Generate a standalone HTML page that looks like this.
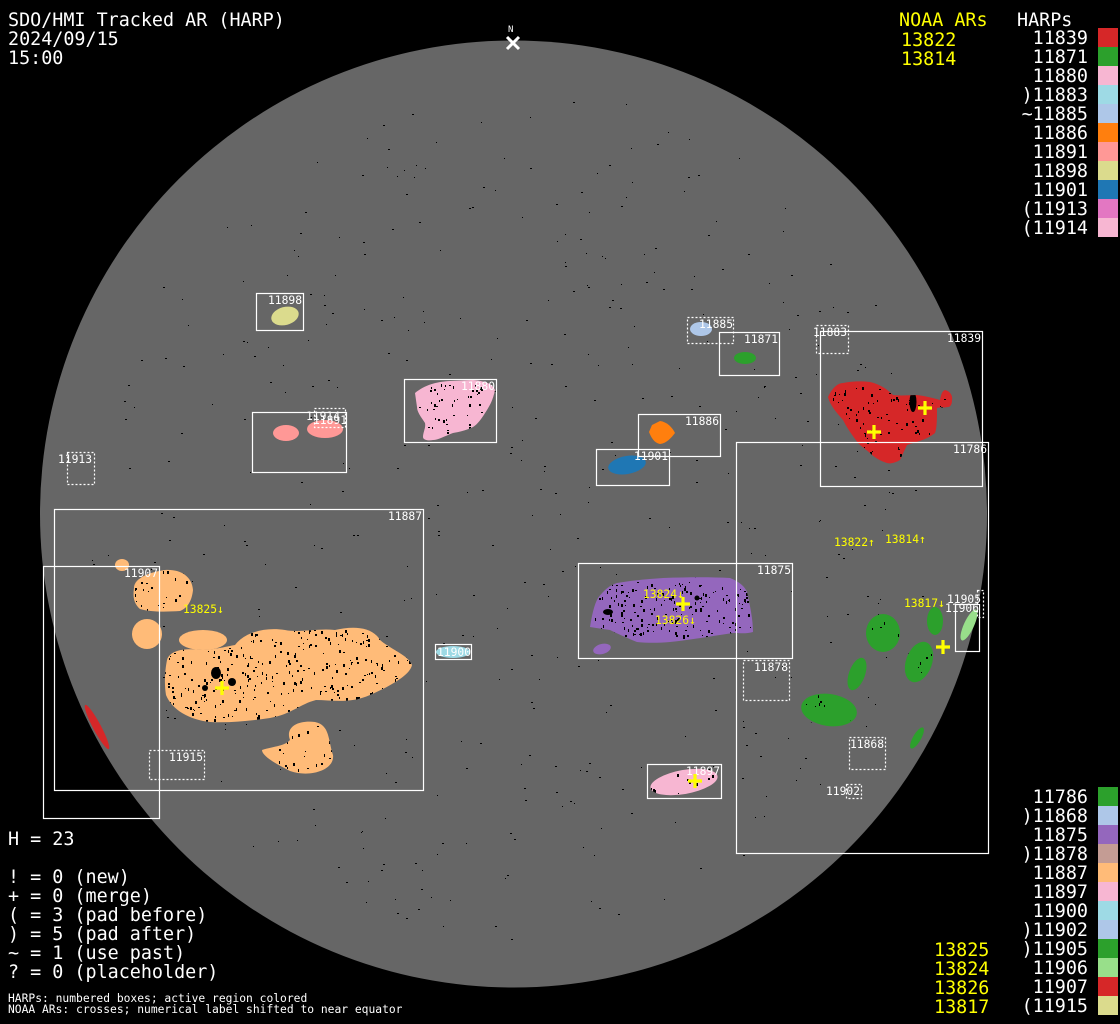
<!DOCTYPE html>
<html><head><meta charset="utf-8">
<style>
html,body{margin:0;padding:0;background:#000;width:1120px;height:1024px;overflow:hidden}
svg{display:block}
.t{font-family:"DejaVu Sans Mono","Liberation Mono",monospace;fill:#fff}
.big{font-size:18.4px}
.sm{font-size:11.3px}
.y{fill:#ffff00}
.box{fill:none;stroke:#fff;stroke-width:1.2}
.dot{fill:none;stroke:#fff;stroke-width:1.2;stroke-dasharray:2 2}
.cr{stroke:#ffff00;stroke-width:3.2}
</style></head><body>
<svg width="1120" height="1024" viewBox="0 0 1120 1024" xmlns="http://www.w3.org/2000/svg">
<defs>
<path id="pOr" d="M167,660 C170,650 185,648 200,650 C215,650 228,646 235,645 C245,632 265,627 285,630 C300,633 318,628 335,630 C352,626 372,626 380,640 C392,650 408,655 412,665 C410,676 386,688 370,695 C350,704 332,700 316,700 C300,704 292,714 270,718 C250,721 230,723 210,722 C190,720 172,710 166,695 C164,683 165,670 167,660 Z"/>
<path id="pOr2" d="M262,750 C275,746 285,746 290,740 C285,727 298,720 315,722 C330,725 328,740 333,755 C335,770 310,778 290,771 C276,764 262,756 262,750 Z"/>
<path id="pOr3" d="M134,588 C134,578 150,572 165,570 C180,569 192,576 193,590 C192,600 188,608 180,611 C165,612 150,612 140,609 C133,603 133,595 134,588 Z"/>
<path id="pRed" d="M828,397 C832,388 838,383 843,383 C853,381 862,381 870,382 C880,384 888,390 893,395 C902,396 910,395 917,395 C925,396 933,398 940,400 C941,395 942,391 945,390 C950,391 953,396 952,400 C952,405 950,407 948,407 C943,408 939,407 937,408 C937,418 937,428 935,433 C927,440 915,442 907,445 C904,451 902,456 900,460 C895,463 890,464 887,463 C880,461 874,457 870,453 C865,449 861,446 858,443 C852,435 847,428 843,420 C836,412 830,405 828,397 Z"/>
<path id="pPur" d="M590,627 C592,615 594,605 598,598 C604,590 610,585 617,583 C635,580 650,579 663,578 C690,577 712,577 730,578 C740,582 745,587 747,592 C750,605 753,620 753,632 C746,634 740,633 733,633 C712,636 690,640 670,642 C658,643 647,643 637,642 C627,638 618,634 610,630 C603,629 596,628 590,627 Z"/>
<path id="pPk" d="M415,393 C425,385 435,382 450,381 L473,380 C485,381 493,384 495,390 C493,400 490,405 487,410 C482,418 478,424 473,427 C465,431 458,432 453,433 C445,436 438,440 433,440 C428,441 423,440 423,437 C423,432 426,428 425,423 C421,417 417,412 417,407 Z"/>
<clipPath id="cl">
<use href="#pOr"/><use href="#pOr2"/><use href="#pOr3"/><use href="#pRed"/><use href="#pPur"/><use href="#pPk"/>
<ellipse cx="883" cy="633" rx="17" ry="19"/>
<ellipse cx="829" cy="710" rx="28" ry="16"/>
<ellipse cx="919" cy="662" rx="13" ry="21" transform="rotate(20 919 662)"/>
<ellipse cx="684" cy="782" rx="34" ry="12" transform="rotate(-10 684 782)"/>
</clipPath>
</defs>
<rect width="1120" height="1024" fill="#000"/>
<circle cx="513.5" cy="514" r="473.5" fill="#666"/>
<g id="speck" fill="#000"></g>

<!-- blobs -->
<ellipse cx="285" cy="316" rx="14" ry="9" fill="#dbdb8d" transform="rotate(-15 285 316)"/>
<ellipse cx="701" cy="329" rx="11" ry="7" fill="#aec7e8"/>
<ellipse cx="745" cy="358" rx="11" ry="6" fill="#2ca02c"/>
<use href="#pPk" fill="#f7b6d2"/>
<ellipse cx="286" cy="433" rx="13" ry="8" fill="#ff9896"/>
<ellipse cx="325" cy="429" rx="18" ry="9" fill="#ff9896"/>
<path d="M652,425 L660,421 C667,422 672,427 675,433 C671,438 667,443 660,444 C654,443 651,437 649,432 Z" fill="#ff7f0e"/>
<ellipse cx="627" cy="465" rx="19" ry="9" fill="#1f77b4" transform="rotate(-10 627 465)"/>
<use href="#pRed" fill="#d62728"/>
<use href="#pPur" fill="#9467bd"/>
<ellipse cx="602" cy="649" rx="9" ry="5" fill="#9467bd" transform="rotate(-15 602 649)"/>
<ellipse cx="453" cy="652" rx="17" ry="6" fill="#9edae5"/>
<g fill="#ffbb78">
<use href="#pOr"/>
<ellipse cx="203" cy="640" rx="24" ry="10"/>
<use href="#pOr2"/>
<use href="#pOr3"/>
<ellipse cx="147" cy="634" rx="15" ry="15"/>
<ellipse cx="122" cy="565" rx="7" ry="6"/>
</g>
<ellipse cx="97" cy="727" rx="4" ry="25" fill="#d62728" transform="rotate(-28 97 727)"/>
<g fill="#2ca02c">
<ellipse cx="883" cy="633" rx="17" ry="19"/>
<ellipse cx="857" cy="674" rx="8" ry="17" transform="rotate(20 857 674)"/>
<ellipse cx="829" cy="710" rx="28" ry="16" transform="rotate(8 829 710)"/>
<ellipse cx="919" cy="662" rx="13" ry="21" transform="rotate(20 919 662)"/>
<ellipse cx="935" cy="621" rx="8" ry="14"/>
<ellipse cx="917" cy="738" rx="4" ry="12" transform="rotate(30 917 738)"/>
</g>
<ellipse cx="969" cy="625" rx="5" ry="17" fill="#98df8a" transform="rotate(25 969 625)"/>
<ellipse cx="684" cy="782" rx="34" ry="12" fill="#f7b6d2" transform="rotate(-10 684 782)"/>
<g id="inner" fill="#000" clip-path="url(#cl)"></g>

<!-- boxes -->
<rect class="box" x="256.5" y="293.5" width="47" height="37"/>
<rect class="dot" x="687.5" y="317.5" width="46" height="26"/>
<rect class="box" x="719.5" y="332.5" width="60" height="43"/>
<rect class="dot" x="816.5" y="325.5" width="32" height="28"/>
<rect class="box" x="820.5" y="331.5" width="162" height="155"/>
<rect class="box" x="736.5" y="442.5" width="252" height="411"/>
<rect class="box" x="404.5" y="379.5" width="92" height="63"/>
<rect class="box" x="252.5" y="412.5" width="94" height="60"/>
<rect class="dot" x="314.5" y="408.5" width="31" height="19"/>
<rect class="dot" x="67.5" y="452.5" width="27" height="32"/>
<rect class="box" x="638.5" y="414.5" width="82" height="42"/>
<rect class="box" x="596.5" y="449.5" width="73" height="36"/>
<rect class="box" x="54.5" y="509.5" width="369" height="281"/>
<rect class="box" x="43.5" y="566.5" width="116" height="252"/>
<rect class="box" x="435.5" y="644.5" width="36" height="15"/>
<rect class="box" x="578.5" y="563.5" width="214" height="95"/>
<rect class="dot" x="743.5" y="660.5" width="46" height="40"/>
<rect class="box" x="647.5" y="764.5" width="74" height="34"/>
<rect class="dot" x="849.5" y="737.5" width="36" height="32"/>
<rect class="dot" x="846.5" y="784.5" width="15" height="14"/>
<rect class="dot" x="977.5" y="590.5" width="6" height="27"/>
<rect class="box" x="955.5" y="604.5" width="24" height="47"/>
<rect class="dot" x="149.5" y="750.5" width="55" height="29"/>

<g class="t sm">
<text x="268" y="304">11898</text>
<text x="699" y="328">11885</text>
<text x="744" y="343">11871</text>
<text x="813" y="336">11883</text>
<text x="947" y="342">11839</text>
<text x="953" y="453">11786</text>
<text x="461" y="390">11880</text>
<text x="306" y="420">11914</text>
<text x="313" y="424">11891</text>
<text x="58" y="463">11913</text>
<text x="685" y="425">11886</text>
<text x="634" y="460">11901</text>
<text x="388" y="520">11887</text>
<text x="124" y="577">11907</text>
<text x="437" y="656">11900</text>
<text x="757" y="574">11875</text>
<text x="754" y="671">11878</text>
<text x="686" y="775">11897</text>
<text x="850" y="748">11868</text>
<text x="826" y="795">11902</text>
<text x="947" y="603">11905</text>
<text x="945" y="612">11906</text>
<text x="169" y="761">11915</text>
</g>
<g class="t sm y">
<text x="834" y="546">13822↑</text>
<text x="885" y="543">13814↑</text>
<text x="904" y="607">13817↓</text>
<text x="183" y="613">13825↓</text>
<text x="643" y="598">13824↓</text>
<text x="655" y="624">13826↓</text>
</g>
<g class="cr">
<path d="M918,408h14M925,401v14"/>
<path d="M867,432h14M874,425v14"/>
<path d="M676,604h14M683,597v14"/>
<path d="M215,688h14M222,681v14"/>
<path d="M688,781h14M695,774v14"/>
<path d="M936,647h14M943,640v14"/>
</g>
<path d="M507,37l12,12M519,37l-12,12" stroke="#fff" stroke-width="3"/>
<text class="t" x="508" y="32" style="font-size:9px">N</text>

<g class="t big">
<text x="8" y="26">SDO/HMI Tracked AR (HARP)</text>
<text x="8" y="45">2024/09/15</text>
<text x="8" y="64">15:00</text>
<text x="899" y="26" style="fill:#ffff00">NOAA ARs</text>
<text x="901" y="46" style="fill:#ffff00">13822</text>
<text x="901" y="65" style="fill:#ffff00">13814</text>
<text x="1017" y="26">HARPs</text>
</g>
<g class="t big" text-anchor="end" id="rl"></g>
<g id="sw"></g>
<g class="t big">
<text x="8" y="845">H = 23</text>
<text x="8" y="883">! = 0 (new)</text>
<text x="8" y="902">+ = 0 (merge)</text>
<text x="8" y="921">( = 3 (pad before)</text>
<text x="8" y="940">) = 5 (pad after)</text>
<text x="8" y="959">~ = 1 (use past)</text>
<text x="8" y="978">? = 0 (placeholder)</text>
<text x="934" y="956" style="fill:#ffff00">13825</text>
<text x="934" y="975" style="fill:#ffff00">13824</text>
<text x="934" y="994" style="fill:#ffff00">13826</text>
<text x="934" y="1013" style="fill:#ffff00">13817</text>
</g>
<g class="t" style="font-size:11.3px">
<text x="8" y="1002">HARPs: numbered boxes; active region colored</text>
<text x="8" y="1013">NOAA ARs: crosses; numerical label shifted to near equator</text>
</g>
</svg>
<script>
(function(){
var NS="http://www.w3.org/2000/svg";
var top=[["11839","#d62728"],["11871","#2ca02c"],["11880","#f7b6d2"],[")11883","#9edae5"],["~11885","#aec7e8"],["11886","#ff7f0e"],["11891","#ff9896"],["11898","#dbdb8d"],["11901","#1f77b4"],["(11913","#e377c2"],["(11914","#f7b6d2"]];
var bot=[["11786","#2ca02c"],[")11868","#aec7e8"],["11875","#9467bd"],[")11878","#c49c94"],["11887","#ffbb78"],["11897","#f7b6d2"],["11900","#9edae5"],[")11902","#aec7e8"],[")11905","#2ca02c"],["11906","#98df8a"],["11907","#d62728"],["(11915","#dbdb8d"]];
var rl=document.getElementById("rl"),sw=document.getElementById("sw");
function add(list,y0){list.forEach(function(it,i){
 var t=document.createElementNS(NS,"text");t.setAttribute("x","1088");t.setAttribute("y",y0+i*19+16);t.textContent=it[0];rl.appendChild(t);
 var r=document.createElementNS(NS,"rect");r.setAttribute("x","1098");r.setAttribute("y",y0+i*19);r.setAttribute("width","20");r.setAttribute("height","19");r.setAttribute("fill",it[1]);sw.appendChild(r);});}
add(top,28);add(bot,787);
var s=12345;function rnd(){s=(s*1103515245+12345)%2147483648;return s/2147483648;}
var g=document.getElementById("speck");
for(var i=0;i<450;i++){var a=rnd()*6.283,rr=Math.sqrt(rnd())*0.9*473;var x=513+rr*Math.cos(a),y=514+rr*Math.sin(a);
 var e=document.createElementNS(NS,"rect");e.setAttribute("x",x.toFixed(0));e.setAttribute("y",y.toFixed(0));e.setAttribute("width",1+Math.floor(rnd()*2));e.setAttribute("height",1);g.appendChild(e);}
var gi=document.getElementById("inner");
var reg=[[165,630,245,90,380],[595,582,155,55,200],[830,385,115,70,120],[418,383,72,50,50],[130,570,60,40,25],[262,722,70,50,30],[800,615,140,110,70],[650,770,70,25,15]];
reg.forEach(function(q){for(var k=0;k<q[4];k++){var e=document.createElementNS(NS,"rect");e.setAttribute("x",(q[0]+rnd()*q[2]).toFixed(0));e.setAttribute("y",(q[1]+rnd()*q[3]).toFixed(0));e.setAttribute("width",1+Math.floor(rnd()*2));e.setAttribute("height",1+Math.floor(rnd()*3));gi.appendChild(e);}});
[[216,673,10,12],[232,682,8,8],[205,688,6,6],[913,402,7,20],[697,598,5,5],[608,612,10,6]].forEach(function(b){var e=document.createElementNS(NS,"ellipse");e.setAttribute("cx",b[0]);e.setAttribute("cy",b[1]);e.setAttribute("rx",b[2]/2);e.setAttribute("ry",b[3]/2);gi.appendChild(e);});
})();
</script>
</body></html>
